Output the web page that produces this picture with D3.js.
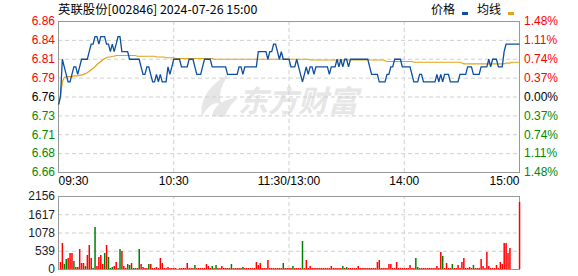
<!DOCTYPE html>
<html>
<head>
<meta charset="utf-8">
<script src="https://cdn.jsdelivr.net/npm/d3@7"></script>
<style>
body { margin: 0; background: #fff; }
svg { display: block; font-family: "Liberation Sans", Arial, sans-serif; }
</style>
</head>
<body>
<svg id="chart" width="578" height="276"></svg>
<script>
var stockTitle = "英联股份[002846] 2024-07-26 15:00";
var preClose = 6.76;
var timeTicks = [0, 60, 120, 180, 240];
var timeLabels = ["09:30", "10:30", "11:30/13:00", "14:00", "15:00"];
var priceTicks = [6.86, 6.835, 6.81, 6.785, 6.76, 6.735, 6.71, 6.685, 6.66];
var priceLabels = ["6.86", "6.84", "6.81", "6.79", "6.76", "6.73", "6.71", "6.68", "6.66"];
var pctLabels = ["1.48%", "1.11%", "0.74%", "0.37%", "0.00%", "0.37%", "0.74%", "1.11%", "1.48%"];
var volTicks = [2156, 1617, 1078, 539, 0];

// one value per minute, 09:30 .. 11:30/13:00 .. 15:00
var prices = [
  6.75,6.76,6.81,6.80,6.79,6.78,6.78,6.79,6.80,6.80,
  6.79,6.80,6.81,6.81,6.81,6.81,6.82,6.83,6.83,6.84,
  6.84,6.83,6.84,6.84,6.84,6.83,6.83,6.82,6.83,6.82,
  6.83,6.84,6.84,6.82,6.82,6.82,6.82,6.81,6.81,6.81,
  6.81,6.81,6.81,6.80,6.79,6.79,6.80,6.80,6.79,6.78,
  6.78,6.79,6.78,6.79,6.78,6.78,6.78,6.80,6.79,6.80,
  6.81,6.81,6.81,6.81,6.80,6.80,6.80,6.80,6.81,6.81,
  6.81,6.80,6.79,6.79,6.79,6.80,6.81,6.81,6.81,6.81,
  6.80,6.80,6.80,6.80,6.80,6.80,6.80,6.80,6.79,6.79,
  6.79,6.79,6.79,6.79,6.80,6.80,6.79,6.80,6.80,6.80,
  6.80,6.80,6.80,6.80,6.82,6.82,6.82,6.82,6.82,6.81,
  6.82,6.82,6.83,6.83,6.82,6.81,6.82,6.81,6.81,6.81,
  6.81,6.80,6.80,6.80,6.81,6.80,6.79,6.78,6.79,6.80,
  6.79,6.80,6.80,6.79,6.80,6.80,6.80,6.80,6.80,6.80,
  6.80,6.79,6.80,6.80,6.80,6.81,6.80,6.81,6.80,6.81,
  6.81,6.80,6.81,6.81,6.81,6.81,6.81,6.81,6.81,6.81,
  6.81,6.81,6.80,6.79,6.79,6.79,6.79,6.78,6.78,6.78,
  6.78,6.79,6.79,6.80,6.80,6.81,6.81,6.81,6.81,6.80,
  6.80,6.80,6.80,6.80,6.79,6.78,6.78,6.78,6.79,6.79,
  6.78,6.78,6.78,6.78,6.78,6.78,6.78,6.79,6.78,6.79,
  6.78,6.79,6.79,6.79,6.78,6.78,6.78,6.78,6.78,6.79,
  6.79,6.79,6.79,6.80,6.80,6.80,6.79,6.79,6.79,6.79,
  6.80,6.80,6.80,6.80,6.81,6.80,6.81,6.81,6.81,6.80,
  6.80,6.80,6.82,6.83,6.83,6.83,6.83,6.83,6.83,6.83,
  6.83
];

var avgPrices = [
  6.750,6.760,6.780,6.786,6.787,6.787,6.787,6.787,6.788,6.788,
  6.788,6.789,6.789,6.790,6.791,6.792,6.794,6.796,6.798,6.800,
  6.803,6.805,6.807,6.809,6.811,6.812,6.813,6.813,6.814,6.814,
  6.815,6.815,6.815,6.815,6.815,6.815,6.815,6.815,6.815,6.815,
  6.815,6.814,6.814,6.814,6.814,6.814,6.814,6.814,6.814,6.814,
  6.814,6.813,6.813,6.813,6.813,6.813,6.812,6.812,6.812,6.812,
  6.812,6.811,6.811,6.811,6.811,6.811,6.811,6.811,6.811,6.811,
  6.811,6.811,6.811,6.811,6.811,6.811,6.811,6.811,6.811,6.811,
  6.811,6.810,6.810,6.810,6.810,6.810,6.810,6.810,6.810,6.810,
  6.810,6.810,6.810,6.810,6.810,6.810,6.810,6.810,6.810,6.810,
  6.810,6.810,6.810,6.810,6.810,6.810,6.810,6.810,6.810,6.810,
  6.810,6.810,6.810,6.810,6.810,6.810,6.810,6.810,6.810,6.810,
  6.810,6.810,6.810,6.810,6.810,6.810,6.810,6.810,6.810,6.810,
  6.810,6.809,6.809,6.809,6.809,6.809,6.809,6.809,6.809,6.809,
  6.809,6.809,6.809,6.809,6.809,6.809,6.809,6.809,6.809,6.809,
  6.809,6.809,6.809,6.809,6.809,6.809,6.809,6.809,6.809,6.809,
  6.809,6.809,6.809,6.809,6.809,6.809,6.809,6.809,6.809,6.809,
  6.808,6.807,6.807,6.807,6.807,6.807,6.807,6.807,6.807,6.807,
  6.807,6.807,6.807,6.807,6.807,6.806,6.806,6.806,6.806,6.806,
  6.806,6.806,6.806,6.806,6.806,6.806,6.806,6.806,6.806,6.806,
  6.806,6.806,6.806,6.806,6.806,6.806,6.806,6.806,6.806,6.806,
  6.805,6.804,6.804,6.804,6.804,6.804,6.804,6.804,6.804,6.804,
  6.804,6.804,6.804,6.804,6.804,6.804,6.804,6.804,6.804,6.804,
  6.804,6.804,6.804,6.805,6.805,6.805,6.806,6.806,6.806,6.806,
  6.806
];

var volumes = [
  0,214,757,146,291,320,466,466,233,58,
  58,583,175,175,78,408,700,320,39,1233,
  97,350,408,146,486,700,369,39,68,97,
  214,39,583,534,78,39,136,107,175,39,
  39,39,602,146,58,39,39,146,146,39,
  39,58,39,320,175,39,39,58,39,29,
  29,20,0,29,20,29,29,175,29,29,
  29,117,29,29,29,29,29,146,78,39,
  78,39,117,39,29,78,39,39,39,39,
  146,29,29,29,29,29,58,29,29,29,
  29,29,29,214,117,175,29,29,29,272,
  29,29,29,29,29,29,29,175,29,29,
  29,29,97,29,29,29,29,825,29,272,
  29,97,29,29,29,29,29,29,29,29,
  29,29,97,29,29,29,29,29,97,29,
  58,29,29,29,29,29,78,29,29,29,
  29,29,29,29,29,29,214,272,29,29,
  29,29,146,146,29,29,214,29,29,29,
  29,29,29,117,29,29,320,58,29,29,
  29,29,29,29,29,29,29,78,29,505,
  388,29,175,29,29,146,29,29,117,29,
  214,320,29,29,58,29,117,29,29,29,
  291,78,29,505,78,29,29,29,117,29,
  214,146,757,757,466,631,0,0,0,0,
  1990
];

// minutes whose volume bar is green
var downBars = [3,4,8,14,18,19,24,26,27,28,31,32,36,37,39,40,42,47,71,80,82,90,96,117,122,127,148,150,186,187,200,205,216];

var svg = d3.select("#chart");
var pLeft = 58, pRight = 519, pTop = 21, pBottom = 172, vTop = 196, vBottom = 269;

var x = d3.scaleLinear().domain([0, 240]).range([pLeft, pRight]);
var y = d3.scaleLinear().domain([6.66, 6.86]).range([pBottom, pTop]);
var yv = d3.scaleLinear().domain([0, 2156]).range([vBottom, vTop]);

function upDownColor(i) {
  if (i < 4) return "#ff0000";
  if (i > 4) return "#008a00";
  return "#000";
}

// watermark
var wm = svg.append("g").attr("fill", "#e6e6e6");
wm.append("path")
  .attr("d", "M202,117 C199,100 209,85 229,74 C220,87 218,96 222,105 C214,100 207,107 202,117 Z M212,116 C214,105 225,98 238,98 C231,104 227,110 225,117 Z");
wm.append("text")
  .attr("x", 238).attr("y", 112)
  .attr("font-family", "Noto Sans CJK SC")
  .attr("font-size", 30).attr("font-weight", "bold")
  .attr("font-style", "italic")
  .text("东方财富");

// grids
function grid(g) {
  g.select(".domain").remove();
  g.selectAll(".tick line").attr("stroke", "#cfcfcf").attr("stroke-dasharray", "4,3");
  g.selectAll(".tick text").remove();
}
svg.append("g").attr("transform", "translate(" + pLeft + ",0)")
  .call(d3.axisLeft(y).tickValues(priceTicks.slice(1, -1)).tickSize(-(pRight - pLeft)))
  .call(grid);
svg.append("g").attr("transform", "translate(0," + pBottom + ")")
  .call(d3.axisBottom(x).tickValues(timeTicks.slice(1, -1)).tickSize(-(pBottom - pTop)))
  .call(grid);
svg.append("g").attr("transform", "translate(" + pLeft + ",0)")
  .call(d3.axisLeft(yv).tickValues(volTicks.slice(1, -1)).tickSize(-(pRight - pLeft)))
  .call(grid);
svg.append("g").attr("transform", "translate(0," + vBottom + ")")
  .call(d3.axisBottom(x).tickValues(timeTicks.slice(1, -1)).tickSize(-(vBottom - vTop)))
  .call(grid);

// frames
svg.append("rect").attr("x", pLeft + 0.5).attr("y", pTop + 0.5)
  .attr("width", pRight - pLeft).attr("height", pBottom - pTop)
  .attr("fill", "none").attr("stroke", "#999");
svg.append("rect").attr("x", pLeft + 0.5).attr("y", vTop + 0.5)
  .attr("width", pRight - pLeft).attr("height", vBottom - vTop)
  .attr("fill", "none").attr("stroke", "#999");

// price axis labels
var ay = svg.append("g").attr("transform", "translate(" + (pLeft - 2) + ",0)")
  .call(d3.axisLeft(y).tickValues(priceTicks).tickSize(0).tickPadding(1)
    .tickFormat(function(d, i) { return priceLabels[i]; }));
ay.select(".domain").remove();
ay.selectAll(".tick text").attr("font-size", 12).attr("font-family", "Liberation Sans, Arial")
  .attr("fill", function(d, i) { return upDownColor(i); });

var ar = svg.append("g").attr("transform", "translate(" + (pRight + 4) + ",0)")
  .call(d3.axisRight(y).tickValues(priceTicks).tickSize(0).tickPadding(1)
    .tickFormat(function(d, i) { return pctLabels[i]; }));
ar.select(".domain").remove();
ar.selectAll(".tick text").attr("font-size", 12).attr("font-family", "Liberation Sans, Arial")
  .attr("fill", function(d, i) { return upDownColor(i); });

// time labels
var ax = svg.append("g").attr("transform", "translate(0," + (pBottom + 2) + ")")
  .call(d3.axisBottom(x).tickValues(timeTicks).tickSize(0).tickPadding(2)
    .tickFormat(function(d, i) { return timeLabels[i]; }));
ax.select(".domain").remove();
ax.selectAll(".tick text").attr("font-size", 12).attr("font-family", "Liberation Sans, Arial")
  .attr("fill", "#000")
  .attr("text-anchor", function(d, i) { return i == 0 ? "start" : (i == timeTicks.length - 1 ? "end" : "middle"); });

// volume labels
var av = svg.append("g").attr("transform", "translate(" + (pLeft - 2) + ",0)")
  .call(d3.axisLeft(yv).tickValues(volTicks).tickSize(0).tickPadding(1).tickFormat(d3.format("d")));
av.select(".domain").remove();
av.selectAll(".tick text").attr("font-size", 12).attr("font-family", "Liberation Sans, Arial")
  .attr("fill", "#1a1a2a");

// volume bars
svg.append("g").selectAll("rect")
  .data(volumes)
  .enter().append("rect")
    .attr("x", function(d, i) { return x(i) - 0.2; })
    .attr("y", function(d) { return Math.round(yv(d)); })
    .attr("width", 1.5)
    .attr("height", function(d) { return vBottom - Math.round(yv(d)); })
    .attr("fill", function(d, i) { return downBars.indexOf(i) >= 0 ? "#008000" : "#ff0000"; });

// lines
var line = d3.line().x(function(d, i) { return x(i) + 0.5; }).y(function(d) { return y(d) + 0.5; });
svg.append("path").datum(avgPrices).attr("d", line)
  .attr("fill", "none").attr("stroke", "#e3a21a").attr("stroke-width", 1.2);
svg.append("path").datum(prices).attr("d", line)
  .attr("fill", "none").attr("stroke", "#0b4ea2").attr("stroke-width", 1.3);

// title and legend
svg.append("text").attr("x", pLeft).attr("y", 14)
  .attr("font-family", "Noto Sans CJK SC").attr("font-size", 12.4)
  .attr("fill", "#000").text(stockTitle);
var legend = svg.append("g").attr("font-family", "Noto Sans CJK SC").attr("font-size", 12);
legend.append("text").attr("x", 431).attr("y", 14).text("价格");
legend.append("rect").attr("x", 462).attr("y", 12).attr("width", 6).attr("height", 3).attr("fill", "#0b4ea2");
legend.append("text").attr("x", 477).attr("y", 14).text("均线");
legend.append("rect").attr("x", 508).attr("y", 12).attr("width", 6).attr("height", 3).attr("fill", "#e3a21a");
</script>
</body>
</html>
